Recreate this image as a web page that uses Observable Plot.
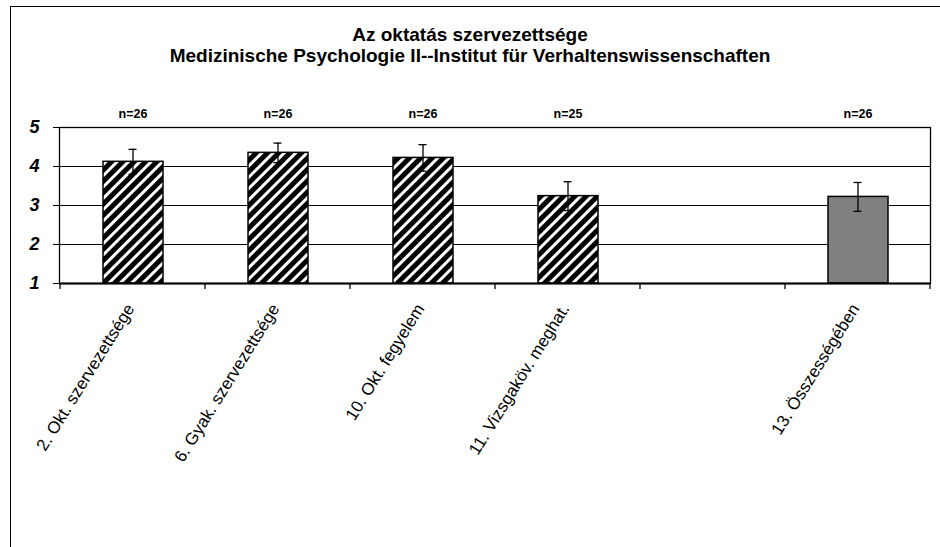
<!DOCTYPE html>
<html>
<head>
<meta charset="utf-8">
<script src="https://cdn.jsdelivr.net/npm/d3@7"></script>
<script src="https://cdn.jsdelivr.net/npm/@observablehq/plot@0.6"></script>
<style>
  html, body { margin: 0; padding: 0; background: white; }
  #wrap { position: relative; width: 940px; height: 547px; overflow: hidden; font-family: "Liberation Sans", Arial, sans-serif; color: black; }
  #frame { position: absolute; left: 10px; top: 6px; width: 1200px; height: 1200px; border: 1.5px solid black; pointer-events: none; z-index: 2; }
  #title { position: absolute; left: 0; top: 24px; width: 940px; text-align: center; font-weight: bold; font-size: 19px; line-height: 21px; z-index: 3; }
  #chart { position: absolute; left: 0; top: 100px; }
  #chart g[aria-label="y-axis tick label"] text { font-style: italic; font-weight: bold; font-size: 18px; }
</style>
</head>
<body>
<div id="wrap">
  <div id="title">Az oktatás szervezettsége<br>Medizinische Psychologie II--Institut für Verhaltenswissenschaften</div>
  <div id="chart"></div>
  <div id="frame"></div>
</div>
<script>
// ---- data ----
const labels = ["2. Okt. szervezettsége", "6. Gyak. szervezettsége", "10. Okt. fegyelem", "11. Vizsgaköv. meghat.", "13. Összességében"];
const means = [4.12, 4.35, 4.22, 3.24, 3.22];
const errors = [0.32, 0.25, 0.34, 0.37, 0.37];
const counts = [26, 26, 26, 25, 26];
const kinds = ["item", "item", "item", "item", "total"];
const yTicks = [1, 2, 3, 4, 5];
const gapSlot = " ";

// ---- table ----
const data = labels.map((label, i) => ({label, mean: means[i], err: errors[i], n: counts[i], kind: kinds[i]}));
const xDomain = [...labels.slice(0, 4), gapSlot, labels[4]];
const items = data.filter(d => d.kind === "item");
const totals = data.filter(d => d.kind === "total");

function boundaryTicks(index, scales, values, dimensions) {
  const x = scales.x;
  const bw = x.bandwidth ? x.bandwidth() : 0;
  const y0 = dimensions.height - dimensions.marginBottom;
  const dom = x.domain();
  const xs = dom.map(d => x(d)).concat([x(dom[dom.length - 1]) + bw]);
  const g = d3.create("svg:g");
  g.selectAll("line").data(xs).join("line")
    .attr("x1", d => d).attr("x2", d => d)
    .attr("y1", y0).attr("y2", y0 + 6)
    .attr("stroke", "black").attr("stroke-width", 1.3);
  return g.node();
}

const font = "'Liberation Sans', Arial, sans-serif";

const chart = Plot.plot({
  width: 940,
  height: 447,
  marginLeft: 59,
  marginRight: 10,
  marginTop: 27,
  marginBottom: 264,
  style: {background: "transparent", fontFamily: font, color: "black"},
  x: {type: "band", domain: xDomain, padding: 0, axis: null},
  y: {domain: [1, 5]},
  marks: [
    Plot.gridY([2, 3, 4, 5], {stroke: "black", strokeOpacity: 1, strokeWidth: 1}),
    Plot.barY(items, {x: "label", y1: 1, y2: "mean", fill: "url(#hatch)", stroke: "black", strokeWidth: 1.5, insetLeft: 43, insetRight: 42}),
    Plot.barY(totals, {x: "label", y1: 1, y2: "mean", fill: "#808080", stroke: "black", strokeWidth: 1.5, insetLeft: 43, insetRight: 42}),
    Plot.ruleX(data, {x: "label", y1: d => d.mean - d.err, y2: d => d.mean + d.err, stroke: "black", strokeWidth: 1.3}),
    Plot.tickY(data, {x: "label", y: d => d.mean + d.err, stroke: "black", strokeWidth: 1.3, insetLeft: 68.5, insetRight: 68.5}),
    Plot.tickY(data, {x: "label", y: d => d.mean - d.err, stroke: "black", strokeWidth: 1.3, insetLeft: 68.5, insetRight: 68.5}),
    Plot.frame({stroke: "black", strokeWidth: 1.3}),
    Plot.ruleY([1], {stroke: "black", strokeWidth: 2}),
    Plot.axisY({ticks: yTicks, tickFormat: d => String(d), tickSize: 6, tickPadding: 14, fontSize: 18, fontWeight: "bold", fontStyle: "italic", label: null, stroke: "black"}),
    boundaryTicks,
    Plot.text(data, {x: "label", text: d => "n=" + d.n, frameAnchor: "top", lineAnchor: "middle", dy: -14, fontSize: 12.5, fontWeight: "bold", fill: "black"}),
    Plot.text(data, {x: "label", text: "label", frameAnchor: "bottom", rotate: -58, textAnchor: "end", dx: 2, dy: 25, fontSize: 17, fill: "black"})
  ]
});

// hatch pattern definition
const svg = d3.select(chart.tagName.toLowerCase() === "svg" ? chart : chart.querySelector("svg"));
const defs = svg.insert("defs", ":first-child");
const pat = defs.append("pattern")
  .attr("id", "hatch")
  .attr("patternUnits", "userSpaceOnUse")
  .attr("width", 8).attr("height", 8)
  .attr("patternTransform", "rotate(45)");
pat.append("rect").attr("width", 8).attr("height", 8).attr("fill", "white");
pat.append("rect").attr("width", 5).attr("height", 8).attr("fill", "black");

document.getElementById("chart").appendChild(chart);
</script>
</body>
</html>
